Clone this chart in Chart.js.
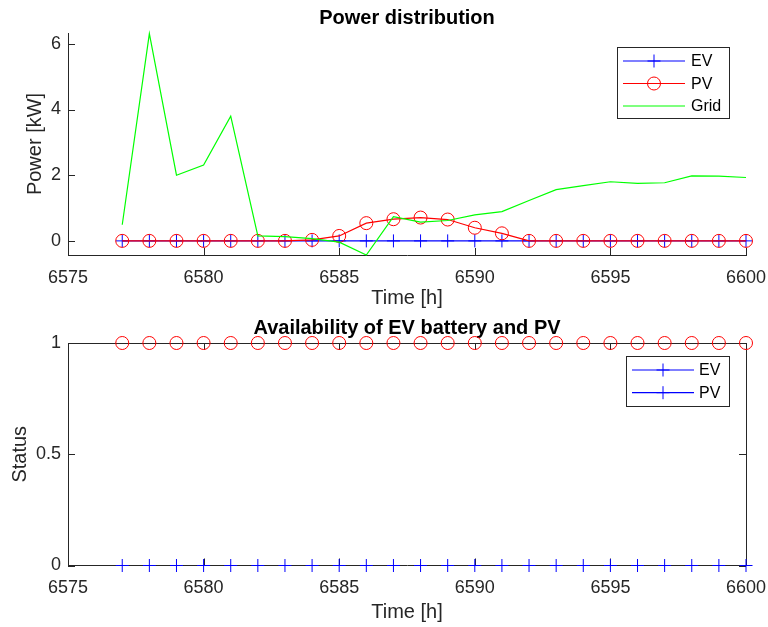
<!DOCTYPE html>
<html>
<head>
<meta charset="utf-8">
<script src="https://cdn.jsdelivr.net/npm/chart.js@4"></script>
<style>
  body { margin: 0; background: #fff; }
  #top { position: absolute; left: 0; top: 0; }
  #bottom { position: absolute; left: 0; top: 310px; }
</style>
</head>
<body>
<canvas id="top" width="768" height="310"></canvas>
<canvas id="bottom" width="768" height="317"></canvas>
<script>
// hours on the x axis
const hours = [6577, 6578, 6579, 6580, 6581, 6582, 6583, 6584, 6585, 6586, 6587, 6588,
               6589, 6590, 6591, 6592, 6593, 6594, 6595, 6596, 6597, 6598, 6599, 6600];

// power distribution [kW]
const evPower = [0, 0, 0, 0, 0, 0, 0, 0, 0, 0, 0, 0, 0, 0, 0, 0, 0, 0, 0, 0, 0, 0, 0, 0];
const pvPower = [0, 0, 0, 0, 0, 0, 0, 0.03, 0.15, 0.54, 0.66, 0.71,
                 0.65, 0.4, 0.23, 0, 0, 0, 0, 0, 0, 0, 0, 0];
const gridPower = [0.49, 6.31, 2.0, 2.31, 3.8, 0.15, 0.13, 0.07, -0.04, -0.43, 0.74, 0.57,
                   0.62, 0.79, 0.89, 1.23, 1.56, 1.68, 1.8, 1.75, 1.77, 1.98, 1.97, 1.93];

// availability status
const evAvail = [0, 0, 0, 0, 0, 0, 0, 0, 0, 0, 0, 0, 0, 0, 0, 0, 0, 0, 0, 0, 0, 0, 0, 0];
const pvAvail = [1, 1, 1, 1, 1, 1, 1, 1, 1, 1, 1, 1, 1, 1, 1, 1, 1, 1, 1, 1, 1, 1, 1, 1];

// tick labels
const xTicks = [6575, 6580, 6585, 6590, 6595, 6600];
const yTicksPower = [0, 2, 4, 6];
const yTicksStatus = [0, 0.5, 1];

const FONT = "'Liberation Sans', Arial, Helvetica, sans-serif";
const AXIS = "#262626";
const BLUE = "#0000ff", RED = "#ff0000", GREEN = "#00ff00";

const toPoints = ys => hours.map((h, i) => ({ x: h, y: ys[i] }));

function drawMarker(ctx, kind, x, y, r, color) {
    ctx.save();
    ctx.strokeStyle = color;
    ctx.lineWidth = 1;
    ctx.beginPath();
    if (kind === "cross") {
        ctx.moveTo(x - r, y); ctx.lineTo(x + r, y);
        ctx.moveTo(x, y - r); ctx.lineTo(x, y + r);
    } else if (kind === "circle") {
        ctx.arc(x, y, r, 0, Math.PI * 2);
    }
    ctx.stroke();
    ctx.restore();
}

// matlab style axes: inward ticks and optional box
const matlabAxes = {
    id: "matlabAxes",
    beforeDatasetsDraw(chart, args, opts) {
        const { ctx, chartArea: a, scales } = chart;
        const len = 7;
        ctx.save();
        ctx.strokeStyle = AXIS;
        ctx.lineWidth = 1;
        ctx.beginPath();
        scales.x.ticks.forEach(t => {
            const px = Math.round(scales.x.getPixelForValue(t.value)) + 0.5;
            ctx.moveTo(px, a.bottom); ctx.lineTo(px, a.bottom - len);
            if (opts.box) { ctx.moveTo(px, a.top); ctx.lineTo(px, a.top + len); }
        });
        scales.y.ticks.forEach(t => {
            const py = Math.round(scales.y.getPixelForValue(t.value)) + 0.5;
            ctx.moveTo(a.left, py); ctx.lineTo(a.left + len, py);
            if (opts.box) { ctx.moveTo(a.right, py); ctx.lineTo(a.right - len, py); }
        });
        if (opts.box) {
            ctx.moveTo(a.left, Math.round(a.top) + 0.5); ctx.lineTo(a.right, Math.round(a.top) + 0.5);
            ctx.moveTo(Math.round(a.right) + 0.5, a.top); ctx.lineTo(Math.round(a.right) + 0.5, a.bottom);
        }
        ctx.stroke();
        ctx.restore();
    }
};

// legend box with line + marker samples
const boxLegend = {
    id: "boxLegend",
    afterDraw(chart, args, opts) {
        const { ctx } = chart;
        const b = opts.box;
        ctx.save();
        ctx.fillStyle = "#fff";
        ctx.fillRect(b.x, b.y, b.w, b.h);
        ctx.strokeStyle = AXIS;
        ctx.lineWidth = 1;
        ctx.strokeRect(b.x + 0.5, b.y + 0.5, b.w, b.h);
        ctx.font = "16px " + FONT;
        ctx.textBaseline = "middle";
        opts.items.forEach((it, i) => {
            const y = b.y + opts.first + i * opts.step;
            ctx.strokeStyle = it.color;
            ctx.lineWidth = 1.2;
            ctx.beginPath();
            ctx.moveTo(b.x + opts.lineFrom, y); ctx.lineTo(b.x + opts.lineTo, y);
            ctx.stroke();
            if (it.marker) drawMarker(ctx, it.marker, b.x + (opts.lineFrom + opts.lineTo) / 2, y, 6.5, it.color);
            ctx.fillStyle = "#000";
            ctx.fillText(it.label, b.x + opts.textX, y + 1);
        });
        ctx.restore();
    }
};

function xScale(height, titlePad) {
    return {
        type: "linear",
        min: 6575,
        max: 6600,
        afterFit: s => { s.height = height; s.paddingRight = 22; s.paddingLeft = 0; },
        afterBuildTicks: s => { s.ticks = xTicks.map(v => ({ value: v })); },
        grid: { display: false, drawTicks: false },
        border: { color: AXIS, width: 1 },
        ticks: { color: AXIS, font: { family: FONT, size: 18 }, padding: 12, maxRotation: 0,
                 callback: v => String(v) },
        title: { display: true, text: "Time [h]", color: AXIS, font: { family: FONT, size: 20 },
                 padding: { top: 0, bottom: titlePad } }
    };
}

function yScale(min, max, ticks, label, titlePad) {
    return {
        min: min,
        max: max,
        afterFit: s => { s.width = 68; s.paddingTop = 0; s.paddingBottom = 0; },
        afterBuildTicks: s => { s.ticks = ticks.map(v => ({ value: v })); },
        grid: { display: false, drawTicks: false },
        border: { color: AXIS, width: 1 },
        ticks: { color: AXIS, font: { family: FONT, size: 18 }, padding: 7,
                 callback: v => String(v) },
        title: { display: true, text: label, color: AXIS, font: { family: FONT, size: 20 },
                 padding: { top: titlePad, bottom: 0 } }
    };
}

function titleOpts(text) {
    return {
        display: true, text: text, color: "#000", fullSize: false,
        font: { family: FONT, size: 20, weight: "bold" },
        padding: { top: 6, bottom: 3 }
    };
}

new Chart(document.getElementById("top"), {
    type: "line",
    data: {
        datasets: [
            { label: "EV", data: toPoints(evPower), borderColor: BLUE, borderWidth: 1.2,
              pointStyle: "cross", pointRadius: 6.5, pointBorderColor: BLUE, pointBorderWidth: 1, order: 3 },
            { label: "PV", data: toPoints(pvPower), borderColor: RED, borderWidth: 1.2,
              pointStyle: "circle", pointRadius: 6.5, pointBorderColor: RED, pointBorderWidth: 1,
              pointBackgroundColor: "rgba(0,0,0,0)", order: 2 },
            { label: "Grid", data: toPoints(gridPower), borderColor: GREEN, borderWidth: 1.2,
              pointRadius: 0, order: 1 }
        ]
    },
    options: {
        responsive: false,
        animation: false,
        layout: { padding: 0 },
        elements: { line: { tension: 0 } },
        datasets: { line: { clip: false } },
        scales: {
            x: xScale(55, 0),
            y: yScale(-0.43, 6.33, yTicksPower, "Power [kW]", 23)
        },
        plugins: {
            title: titleOpts("Power distribution"),
            legend: { display: false },
            tooltip: { enabled: false },
            matlabAxes: { box: false },
            boxLegend: {
                box: { x: 617, y: 47, w: 112, h: 71 },
                first: 14, step: 22.5, lineFrom: 6, lineTo: 68, textX: 74,
                items: [
                    { label: "EV", color: BLUE, marker: "cross" },
                    { label: "PV", color: RED, marker: "circle" },
                    { label: "Grid", color: GREEN, marker: null }
                ]
            }
        }
    },
    plugins: [matlabAxes, boxLegend]
});

new Chart(document.getElementById("bottom"), {
    type: "line",
    data: {
        datasets: [
            { label: "EV", data: toPoints(evAvail), showLine: false,
              pointStyle: "cross", pointRadius: 6.5, pointBorderColor: BLUE, pointBorderWidth: 1, order: 2 },
            { label: "PV", data: toPoints(pvAvail), showLine: false,
              pointStyle: "circle", pointRadius: 6.5, pointBorderColor: RED, pointBorderWidth: 1,
              pointBackgroundColor: "rgba(0,0,0,0)", order: 1 }
        ]
    },
    options: {
        responsive: false,
        animation: false,
        layout: { padding: 0 },
        datasets: { line: { clip: false } },
        scales: {
            x: xScale(61.5, 3),
            y: yScale(0, 1, yTicksStatus, "Status", 8)
        },
        plugins: {
            title: titleOpts("Availability of EV battery and PV"),
            legend: { display: false },
            tooltip: { enabled: false },
            matlabAxes: { box: true },
            boxLegend: {
                box: { x: 626, y: 46, w: 103, h: 50 },
                first: 14, step: 22.7, lineFrom: 6, lineTo: 68, textX: 73,
                items: [
                    { label: "EV", color: BLUE, marker: "cross" },
                    { label: "PV", color: BLUE, marker: "cross" }
                ]
            }
        }
    },
    plugins: [matlabAxes, boxLegend]
});
</script>
</body>
</html>
